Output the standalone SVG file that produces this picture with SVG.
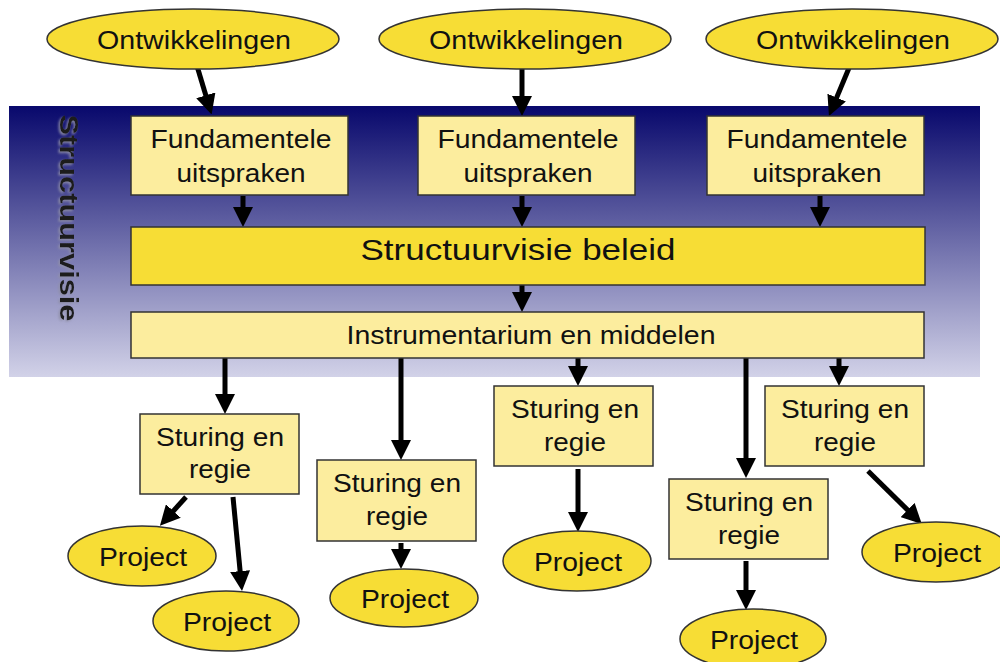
<svg xmlns="http://www.w3.org/2000/svg" width="1000" height="662" viewBox="0 0 1000 662">
<style>
text{font-family:"Liberation Sans",Arial,sans-serif;font-size:25px;fill:#111;text-anchor:middle}
.box{fill:#fced9e;stroke:#333;stroke-width:1.5}
.ell{fill:#f7dd35;stroke:#333;stroke-width:1.5}
.main{fill:#f7dd35;stroke:#333;stroke-width:1.5}
.con line{stroke:#000;stroke-width:5;marker-end:url(#ah)}
</style>
<defs>
<linearGradient id="bg" x1="0" y1="0" x2="0" y2="1">
<stop offset="0" stop-color="#08086c"/>
<stop offset="1" stop-color="#d2d2e8"/>
</linearGradient>
<filter id="sh" x="-20%" y="-20%" width="140%" height="140%">
<feDropShadow dx="1.5" dy="1.5" stdDeviation="0.8" flood-color="#9090a8" flood-opacity="0.9"/>
</filter>
<marker id="ah" viewBox="0 0 20 20" refX="2" refY="10" markerWidth="20" markerHeight="20" markerUnits="userSpaceOnUse" orient="auto">
<path d="M0,0 L20,10 L0,20 z" fill="#000"/>
</marker>
</defs>
<rect x="9" y="106" width="971" height="271" fill="url(#bg)"/>
<text id="label-structuurvisie" transform="translate(60,218) rotate(90)" filter="url(#sh)" style="font-weight:bold;fill:#1c1c1c" textLength="207" lengthAdjust="spacingAndGlyphs">Structuurvisie</text>

<g class="con" id="connectors">
<line x1="197" y1="66" x2="206.4" y2="97.2"/>
<line x1="522" y1="68" x2="522" y2="98"/>
<line x1="849" y1="68" x2="835.9" y2="99.4"/>
<line x1="243" y1="196" x2="243" y2="209"/>
<line x1="522" y1="196" x2="522" y2="209"/>
<line x1="820" y1="196" x2="820" y2="209"/>
<line x1="522" y1="285" x2="522" y2="294"/>
<line x1="225" y1="358" x2="225" y2="396"/>
<line x1="401" y1="358" x2="401" y2="442"/>
<line x1="578" y1="358" x2="578" y2="368"/>
<line x1="746" y1="358" x2="746" y2="460"/>
<line x1="839" y1="358" x2="839" y2="368"/>
<line x1="186" y1="497" x2="172" y2="512.5"/>
<line x1="233" y1="497" x2="240.3" y2="573.1"/>
<line x1="401" y1="543" x2="401" y2="551"/>
<line x1="578" y1="469" x2="578" y2="514"/>
<line x1="746" y1="561" x2="746" y2="592"/>
<line x1="868" y1="471" x2="909" y2="511.4"/>
</g>

<g id="ontw1"><ellipse class="ell" cx="193" cy="39" rx="146" ry="30"/><text x="194" y="49" textLength="194" lengthAdjust="spacingAndGlyphs">Ontwikkelingen</text></g>
<g id="ontw2"><ellipse class="ell" cx="525" cy="39" rx="146" ry="30"/><text x="526" y="49" textLength="194" lengthAdjust="spacingAndGlyphs">Ontwikkelingen</text></g>
<g id="ontw3"><ellipse class="ell" cx="852" cy="39" rx="146" ry="30"/><text x="853" y="49" textLength="194" lengthAdjust="spacingAndGlyphs">Ontwikkelingen</text></g>

<g id="fund1"><rect class="box" x="131" y="116" width="217" height="79"/><text x="241" y="148" textLength="181" lengthAdjust="spacingAndGlyphs">Fundamentele</text><text x="241" y="182" textLength="129" lengthAdjust="spacingAndGlyphs">uitspraken</text></g>
<g id="fund2"><rect class="box" x="418" y="116" width="217" height="79"/><text x="528" y="148" textLength="181" lengthAdjust="spacingAndGlyphs">Fundamentele</text><text x="528" y="182" textLength="129" lengthAdjust="spacingAndGlyphs">uitspraken</text></g>
<g id="fund3"><rect class="box" x="707" y="116" width="217" height="79"/><text x="817" y="148" textLength="181" lengthAdjust="spacingAndGlyphs">Fundamentele</text><text x="817" y="182" textLength="129" lengthAdjust="spacingAndGlyphs">uitspraken</text></g>

<g id="beleid"><rect class="main" x="131" y="227" width="794" height="58"/><text x="518" y="260" style="font-size:30px" textLength="315" lengthAdjust="spacingAndGlyphs">Structuurvisie beleid</text></g>
<g id="instrumentarium"><rect class="box" x="131" y="312" width="793" height="46"/><text x="531" y="344" textLength="369" lengthAdjust="spacingAndGlyphs">Instrumentarium en middelen</text></g>

<g id="sturing1"><rect class="box" x="140" y="414" width="159" height="80"/><text x="220" y="446" textLength="128" lengthAdjust="spacingAndGlyphs">Sturing en</text><text x="220" y="478" textLength="62" lengthAdjust="spacingAndGlyphs">regie</text></g>
<g id="sturing2"><rect class="box" x="317" y="460" width="159" height="81"/><text x="397" y="492" textLength="128" lengthAdjust="spacingAndGlyphs">Sturing en</text><text x="397" y="525" textLength="62" lengthAdjust="spacingAndGlyphs">regie</text></g>
<g id="sturing3"><rect class="box" x="494" y="386" width="159" height="80"/><text x="575" y="418" textLength="128" lengthAdjust="spacingAndGlyphs">Sturing en</text><text x="575" y="451" textLength="62" lengthAdjust="spacingAndGlyphs">regie</text></g>
<g id="sturing4"><rect class="box" x="669" y="479" width="159" height="80"/><text x="749" y="511" textLength="128" lengthAdjust="spacingAndGlyphs">Sturing en</text><text x="749" y="544" textLength="62" lengthAdjust="spacingAndGlyphs">regie</text></g>
<g id="sturing5"><rect class="box" x="765" y="386" width="159" height="80"/><text x="845" y="418" textLength="128" lengthAdjust="spacingAndGlyphs">Sturing en</text><text x="845" y="451" textLength="62" lengthAdjust="spacingAndGlyphs">regie</text></g>

<g id="project1a"><ellipse class="ell" cx="142" cy="556" rx="74" ry="30"/><text x="143" y="566" textLength="88" lengthAdjust="spacingAndGlyphs">Project</text></g>
<g id="project1b"><ellipse class="ell" cx="226" cy="621" rx="73" ry="30"/><text x="227" y="631" textLength="88" lengthAdjust="spacingAndGlyphs">Project</text></g>
<g id="project2"><ellipse class="ell" cx="404" cy="598" rx="74" ry="29"/><text x="405" y="608" textLength="88" lengthAdjust="spacingAndGlyphs">Project</text></g>
<g id="project3"><ellipse class="ell" cx="577" cy="561" rx="74" ry="30"/><text x="578" y="571" textLength="88" lengthAdjust="spacingAndGlyphs">Project</text></g>
<g id="project4"><ellipse class="ell" cx="753" cy="639" rx="73" ry="30"/><text x="754" y="649" textLength="88" lengthAdjust="spacingAndGlyphs">Project</text></g>
<g id="project5"><ellipse class="ell" cx="936" cy="552" rx="74" ry="30"/><text x="937" y="562" textLength="88" lengthAdjust="spacingAndGlyphs">Project</text></g>
</svg>
